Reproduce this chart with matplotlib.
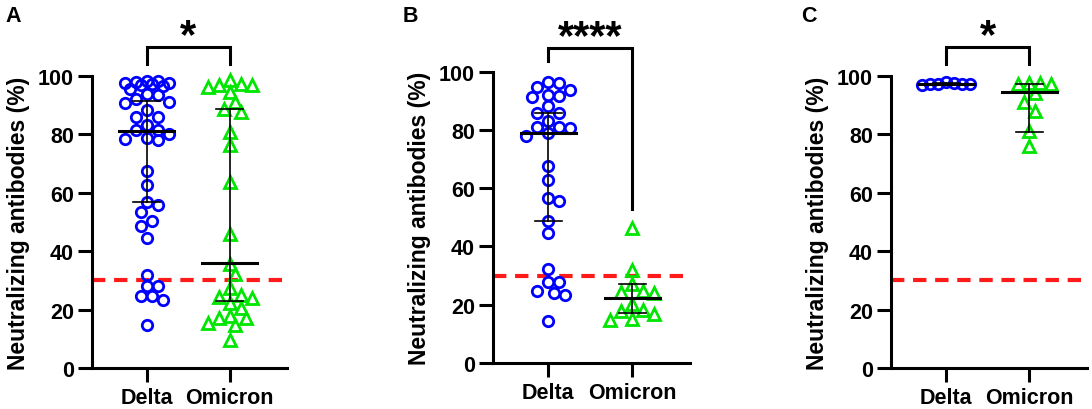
import numpy as np
import matplotlib
matplotlib.use('Agg')
import matplotlib.pyplot as plt

plt.rcParams['font.family'] = ['Liberation Sans', 'DejaVu Sans']
plt.rcParams['font.weight'] = 'bold'

groups = ['Delta', 'Omicron']
yticks = [0, 20, 40, 60, 80, 100]
cutoff = 30

# panel A
a_delta = [97.4, 95.7, 97.9, 98.2, 96.6, 98.2, 97.0, 97.7, 97.7, 93.6, 94.0, 92.0,
           91.0, 90.9, 88.2, 86.0, 86.0, 83.1, 81.4, 81.4, 80.3, 78.8, 78.0, 78.3,
           67.5, 62.8, 57.0, 55.7, 53.4, 50.2, 48.5, 44.6, 32.0, 28.0, 28.0, 24.5,
           24.5, 23.2, 14.6]
a_omicron = [97.4, 98.5, 94.5, 96.2, 97.0, 97.0, 91.0, 88.6, 87.7, 80.8, 76.3, 63.7,
             46.0, 35.7, 32.3, 27.4, 22.4, 24.0, 24.3, 24.9, 20.5, 17.1, 17.1, 14.6,
             15.5, 17.8, 9.5]
a_median = [81.0, 36.0]
a_q1 = [56.8, 22.8]
a_q3 = [91.6, 88.8]

# panel B
b_delta = [96.6, 96.0, 94.9, 93.7, 92.1, 91.5, 91.2, 88.3, 85.8, 85.8, 83.2, 81.1,
           81.1, 80.5, 78.0, 78.9, 67.5, 62.9, 56.7, 55.5, 48.6, 44.7, 32.1, 27.8,
           27.8, 24.7, 24.1, 23.4, 14.4]
b_omicron = [46.3, 31.8, 27.2, 24.3, 24.6, 24.1, 20.3, 17.7, 18.1, 14.6, 15.0, 16.9]
b_median = [78.9, 22.4]
b_q1 = [48.6, 17.3]
b_q3 = [85.9, 27.2]

# panel C
c_delta = [97.4, 97.6, 97.2, 97.8, 96.8, 97.4, 97.4]
c_omicron = [97.6, 94.2, 97.6, 97.3, 97.3, 91.2, 88.1, 81.3, 76.1]
c_median = [97.4, 94.6]
c_q1 = [97.2, 80.9]
c_q3 = [97.6, 97.3]

letters = ['A', 'B', 'C']
stars = ['*', '****', '*']

BLUE = '#0000ff'
GREEN = '#00e600'
RED = '#ff1a1a'


def swarm_x(ax, vals, center, min_px=11.0, max_px=24.0):
    # beeswarm: push points sideways until they stop overlapping,
    # but keep them within +-max_px of the centre
    p0 = ax.transData.transform((0, 0))
    p1 = ax.transData.transform((1, 1))
    sx, sy = p1[0] - p0[0], p1[1] - p0[1]
    step = min_px / 2.0
    order = np.argsort(vals, kind='stable')[::-1]
    placed = []
    xs = np.zeros(len(vals))
    nsteps = int(max_px // step)
    cands = [0.0]
    for k in range(1, nsteps + 1):
        cands += [k * step, -k * step]
    for i in order:
        yp = vals[i] * sy
        best, best_d = None, -1
        for off in cands:
            d = min([np.hypot(off - px, yp - py) for px, py in placed] or [1e9])
            if d >= min_px:
                best = off
                break
            if d > best_d:
                best, best_d = off, d
        placed.append((best, yp))
        xs[i] = center + best / sx
    return xs


fig = plt.figure(figsize=(10.92, 4.10), dpi=100)
positions = [[0.0842, 0.100, 0.1786, 0.7122],
             [0.4515, 0.1122, 0.1804, 0.7105],
             [0.8159, 0.100, 0.1795, 0.7122]]
letter_x = [0.005, 0.369, 0.7335]
brackets = [(104, 110, 104), (103.6, 108.2, 52.7), (104, 110, 104)]

panels = [
    (a_delta, a_omicron, a_median, a_q1, a_q3),
    (b_delta, b_omicron, b_median, b_q1, b_q3),
    (c_delta, c_omicron, c_median, c_q1, c_q3),
]

for p, (dl, om, med, q1, q3) in enumerate(panels):
    ax = fig.add_axes(positions[p])
    ax.set_xlim(-0.66, 1.69)
    ax.set_ylim(0, 100)

    ax.axhline(cutoff, color=RED, lw=3, dashes=(3.2, 2.1), zorder=1)

    dmin = 8.0 if p == 2 else 11.0
    xd = swarm_x(ax, np.array(dl), 0, dmin)
    xo = swarm_x(ax, np.array(om), 1, 11.0)
    ax.plot(xd, dl, 'o', ms=7.5, mfc='none', mec=BLUE, mew=2, clip_on=False, zorder=2)
    ax.plot(xo, om, '^', ms=8.5, mfc='none', mec=GREEN, mew=2, clip_on=False, zorder=2)

    for g in range(2):
        ax.plot([g - 0.33, g + 0.33], [med[g], med[g]], color='black', lw=2.2, zorder=3)
        ax.plot([g, g], [q1[g], q3[g]], color='black', lw=1.2, zorder=3)
        for q in (q1[g], q3[g]):
            ax.plot([g - 0.16, g + 0.16], [q, q], color='black', lw=1.2, zorder=3)

    l, top, r = brackets[p]
    ax.plot([0, 0, 1, 1], [l, top, top, r], color='black', lw=2.2, clip_on=False,
            solid_joinstyle='miter')
    ax.text(0.5, top, stars[p], ha='center', va='baseline', fontsize=30,
            fontweight='bold')

    ax.set_xticks([0, 1])
    ax.set_xticklabels(groups, fontsize=15.5, fontweight='bold')
    ax.set_yticks(yticks)
    ax.set_yticklabels([str(t) for t in yticks], fontsize=15.5, fontweight='bold')
    ax.tick_params(axis='both', width=2.2, length=10, color='black')
    ax.tick_params(axis='y', pad=3)
    ax.tick_params(axis='x', pad=4)
    ax.set_ylabel('Neutralizing antibodies (%)', fontsize=16.5, fontweight='bold',
                  labelpad=6)
    for s in ['top', 'right']:
        ax.spines[s].set_visible(False)
    for s in ['left', 'bottom']:
        ax.spines[s].set_linewidth(2.2)

    fig.text(letter_x[p], 0.985, letters[p], fontsize=15.5, fontweight='bold', va='top')

fig.savefig('out.png', dpi=100)
